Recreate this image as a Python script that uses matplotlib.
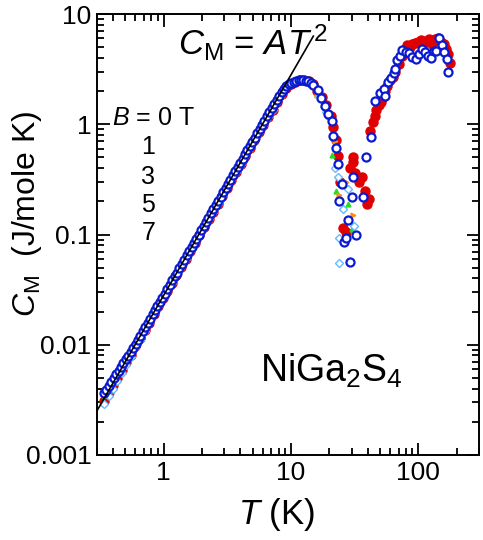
import matplotlib
matplotlib.use('Agg')
import matplotlib.pyplot as plt

plt.rcParams['font.family'] = 'Liberation Sans'
plt.rcParams['mathtext.fontset'] = 'custom'
plt.rcParams['mathtext.rm'] = 'Liberation Sans'
plt.rcParams['mathtext.it'] = 'Liberation Sans:italic'

########## DATA ################################################################

# common low temperature grid (K) for B = 0, 1, 3, 5 T
T_low = [0.34, 0.37, 0.40, 0.43, 0.47, 0.51, 0.55, 0.60, 0.65, 0.71, 0.77, 0.84,
         0.91, 0.99, 1.07, 1.16, 1.26, 1.37, 1.49, 1.62, 1.76, 1.91, 2.08, 2.26,
         2.45, 2.66, 2.89, 3.14, 3.41, 3.70, 4.02, 4.37, 4.75, 5.16, 5.60, 6.08,
         6.60, 7.17, 7.79, 8.46, 9.19, 9.98, 10.8, 11.7, 12.7, 13.8, 15.0]

# B = 0 T
C_low_0 = [0.0031, 0.0037, 0.0043, 0.0050, 0.0059, 0.0070, 0.0081, 0.0097, 0.0114,
           0.0135, 0.0159, 0.0190, 0.0223, 0.0263, 0.0308, 0.0362, 0.0427, 0.0504,
           0.0597, 0.0705, 0.0833, 0.098, 0.116, 0.137, 0.161, 0.190, 0.225, 0.265,
           0.313, 0.368, 0.434, 0.513, 0.607, 0.716, 0.843, 0.99, 1.17, 1.36, 1.60,
           1.88, 2.12, 2.33, 2.44, 2.52, 2.53, 2.47, 2.32]
T_hi_0 = [16.0, 17.5, 19.0, 20.5, 21.5, 22.5, 23.5, 24.5, 25.5, 27.0, 29.0, 30.5,
          31.0, 32.0, 34.0, 36.0, 38.0, 39.5, 41.0, 42.0, 44.0, 46.0, 47.0, 49.0,
          51.0, 53.0, 55.0, 57.0, 60.0, 63.0, 66.0, 70.0, 74.0, 78.0, 82.0, 86.0,
          90.0, 95.0, 100, 105, 110, 116, 122, 128, 135, 142, 150, 158, 165, 172, 178]
C_hi_0 = [2.0, 1.75, 1.5, 1.2, 0.95, 0.72, 0.52, 0.30, 0.115, 0.105, 0.40, 0.45,
          0.50, 0.36, 0.30, 0.33, 0.25, 0.19, 0.21, 0.87, 1.05, 1.2, 1.35, 1.5,
          1.6, 1.75, 2.0, 2.2, 2.5, 2.7, 3.0, 3.5, 4.2, 4.8, 5.2, 5.0,
          5.3, 5.5, 5.6, 5.8, 5.5, 5.7, 5.9, 5.4, 5.9, 6.0, 5.6, 5.3, 4.8, 4.3, 3.6]

# B = 1 T
C_low_1 = [0.0035, 0.0041, 0.0048, 0.0056, 0.0067, 0.0079, 0.0091, 0.0109, 0.0128,
           0.0152, 0.0179, 0.0213, 0.0250, 0.0296, 0.0346, 0.0407, 0.0480, 0.0568,
           0.0671, 0.0794, 0.0937, 0.110, 0.131, 0.154, 0.182, 0.214, 0.253, 0.298,
           0.352, 0.414, 0.489, 0.577, 0.682, 0.805, 0.948, 1.12, 1.30, 1.50, 1.75,
           2.02, 2.25, 2.40, 2.47, 2.50, 2.49, 2.42, 2.25]
T_hi_1 = [16.0, 18.0, 19.5, 21.0, 22.8, 28.0, 30.0]
C_hi_1 = [1.9, 1.5, 1.2, 0.53, 0.25, 0.19, 0.113]

# B = 3 T
C_low_3 = [0.0029, 0.0034, 0.0040, 0.0047, 0.0056, 0.0066, 0.0076, 0.0091, 0.0106,
           0.0127, 0.0149, 0.0178, 0.0209, 0.0247, 0.0289, 0.0339, 0.0400, 0.0473,
           0.0559, 0.0661, 0.0781, 0.092, 0.109, 0.129, 0.151, 0.178, 0.211, 0.248,
           0.293, 0.345, 0.407, 0.481, 0.569, 0.671, 0.790, 0.93, 1.10, 1.29, 1.52,
           1.78, 2.05, 2.27, 2.40, 2.47, 2.48, 2.40, 2.24]
T_hi_3 = [16.0, 18.5, 20.5, 22.0, 24.0, 27.0, 30.5]
C_hi_3 = [1.85, 1.45, 1.1, 0.7, 0.23, 0.30, 0.15]

# B = 5 T
C_low_5 = [0.0029, 0.0034, 0.0040, 0.0047, 0.0056, 0.0066, 0.0078, 0.0094, 0.0111,
           0.0134, 0.0158, 0.0190, 0.0223, 0.0264, 0.0308, 0.0362, 0.0427, 0.0505,
           0.0597, 0.0705, 0.0833, 0.098, 0.116, 0.137, 0.161, 0.190, 0.225, 0.265,
           0.313, 0.368, 0.434, 0.513, 0.607, 0.716, 0.843, 0.99, 1.17, 1.36, 1.60,
           1.88, 2.14, 2.34, 2.45, 2.50, 2.50, 2.43, 2.27]
T_hi_5 = [16.5, 19.0, 22.0, 23.3, 25.5, 28.0, 31.5, 24.0, 24.0]
C_hi_5 = [1.8, 1.3, 0.40, 0.33, 0.17, 0.26, 0.12, 0.092, 0.055]

# B = 7 T (denser measurement)
T_low_7 = [0.340, 0.355, 0.371, 0.388, 0.405, 0.424, 0.443, 0.463, 0.483, 0.505,
           0.528, 0.552, 0.576, 0.602, 0.630, 0.658, 0.687, 0.718, 0.751, 0.784,
           0.820, 0.857, 0.895, 0.935, 0.977, 1.02, 1.07, 1.12, 1.17, 1.22, 1.27,
           1.33, 1.39, 1.45, 1.52, 1.59, 1.66, 1.73, 1.81, 1.89, 1.98, 2.07, 2.16,
           2.25, 2.36, 2.46, 2.57, 2.69, 2.81, 2.94, 3.07, 3.21, 3.35, 3.50, 3.66,
           3.82, 3.99, 4.17, 4.36, 4.56, 4.76, 4.98, 5.20, 5.44, 5.68, 5.94, 6.20,
           6.48, 6.78, 7.08, 7.40, 7.73, 8.08, 8.45, 8.83, 9.22, 9.64, 10.1, 10.5,
           11.0, 11.5, 12.0, 12.5, 13.1, 13.7, 14.3, 15.0]
C_low_7 = [0.00363, 0.00392, 0.00424, 0.00459, 0.00496, 0.00539, 0.00582, 0.00630,
           0.00679, 0.00736, 0.00796, 0.00862, 0.00929, 0.01015, 0.01111, 0.01212,
           0.01322, 0.01443, 0.01579, 0.01721, 0.01883, 0.02056, 0.02243, 0.02448,
           0.02673, 0.02913, 0.03206, 0.03512, 0.03833, 0.04168, 0.04516, 0.04953,
           0.05410, 0.05887, 0.06469, 0.07079, 0.07716, 0.08380, 0.09173, 0.1000,
           0.1098, 0.1200, 0.1306, 0.1418, 0.1559, 0.1694, 0.1849, 0.2026, 0.2211,
           0.2420, 0.2639, 0.2885, 0.3142, 0.3430, 0.3751, 0.4086, 0.4458, 0.4869,
           0.5323, 0.5822, 0.6344, 0.6944, 0.7571, 0.8286, 0.9033, 0.9879, 1.076,
           1.176, 1.28, 1.40, 1.52, 1.66, 1.80, 1.95, 2.08, 2.20, 2.30, 2.38, 2.43,
           2.47, 2.50, 2.51, 2.51, 2.49, 2.45, 2.38, 2.28]
T_hi_7 = [16.2, 17.2, 18.4, 19.6, 21.0, 21.3, 22.8, 23.3, 24.0, 25.0, 26.0, 27.0,
          28.0, 29.0, 30.0, 30.5, 32.6, 36.5, 39.0, 42.8, 46.0, 50.0, 54.0, 55.0,
          58.0, 61.0, 64.0, 66.0, 68.0, 72.0, 75.0, 80.0, 85.0, 90.0, 96.0, 101,
          107, 113, 120, 126, 132, 138, 146, 153, 160, 168, 170]
C_hi_7 = [2.05, 1.74, 1.45, 1.25, 1.08, 0.79, 0.61, 0.44, 0.20, 0.29, 0.085, 0.093,
          0.135, 0.056, 0.22, 0.33, 0.10, 0.22, 0.50, 0.76, 1.63, 1.93, 2.1, 1.8,
          2.4, 2.6, 2.9, 3.2, 3.8, 4.2, 4.7, 4.5, 4.4, 4.1, 3.9, 4.3,
          4.8, 4.5, 4.2, 4.0, 4.6, 4.6, 6.0, 5.2, 4.5, 3.9, 3.0]

# C = A T^2 line
A_fit = 0.028
T_fit = [0.3, 15.0]

########## PLOT ################################################################

fig = plt.figure(figsize=(4.83, 5.40), dpi=100)
ax = fig.add_axes([97/483, 85/540, 382/483, 441/540])

ax.plot(T_low + T_hi_0, C_low_0 + C_hi_0, 'o', color='#e00000', mec='#e00000',
        ms=6.5, ls='none', zorder=2)
ax.plot(T_low + T_hi_1, C_low_1 + C_hi_1, '^', color='#22dd22', mec='#22dd22',
        ms=3.5, ls='none', zorder=3)
ax.plot(T_low + T_hi_3, C_low_3 + C_hi_3, '>', color='#ff8c1a', mec='#ff8c1a',
        ms=3.5, ls='none', zorder=3)
ax.plot(T_low + T_hi_5, C_low_5 + C_hi_5, 'D', mfc='white', mec='#66bbff',
        ms=4.5, mew=1.0, ls='none', zorder=4)
ax.plot(T_low_7 + T_hi_7, C_low_7 + C_hi_7, 'o', mfc='white', mec='#0a1ad0',
        ms=5.8, mew=1.6, ls='none', zorder=5)

ax.plot(T_fit, [A_fit * t**2 for t in T_fit], color='black', lw=1.2, zorder=6)

ax.set_xscale('log')
ax.set_yscale('log')
ax.set_xlim(0.3, 300)
ax.set_ylim(0.001, 10)

ax.set_xticks([1, 10, 100])
ax.set_xticklabels(['1', '10', '100'])
ax.set_yticks([0.001, 0.01, 0.1, 1, 10])
ax.set_yticklabels(['0.001', '0.01', '0.1', '1', '10'])

ax.tick_params(which='both', direction='in', top=True, right=True, width=1.3)
ax.tick_params(which='major', length=9, labelsize=19, pad=4)
ax.tick_params(which='minor', length=5)
for s in ax.spines.values():
    s.set_linewidth(1.4)

ax.set_xlabel(r'$T$ (K)', fontsize=25)
ax.xaxis.set_label_coords(0.471, -0.093)
ax.set_ylabel(r'$C_{\rm M}$  (J/mole K)', fontsize=23)
ax.yaxis.set_label_coords(-0.14, 0.546)

ax.text(0.212, 0.907, r'$C_{\rm M}$ = $AT^{\,2}$', transform=ax.transAxes,
        fontsize=25, ha='left', va='baseline')
ax.text(0.427, 0.166, r'NiGa$_2$S$_4$', transform=ax.transAxes,
        fontsize=27, ha='left', va='baseline')

ax.text(0.039, 0.764, r'$B$ = 0 T', transform=ax.transAxes, fontsize=18,
        ha='left', va='center')
for lab, yy in zip(['1', '3', '5', '7'], [0.698, 0.630, 0.567, 0.503]):
    ax.text(0.134, yy, lab, transform=ax.transAxes, fontsize=18,
            ha='center', va='center')

plt.savefig('out.png', dpi=100)
